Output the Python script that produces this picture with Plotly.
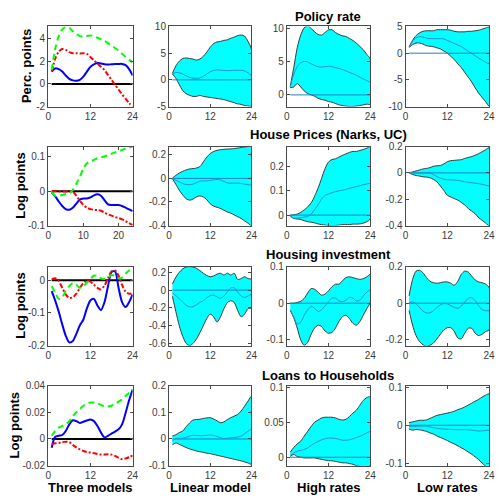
import plotly.graph_objects as go

# Impulse responses over 24 horizons: three models (left column) and
# bootstrap bands (linear model, high rates, low rates).
horizon = [1, 2, 3, 4, 5, 6, 7, 8, 9, 10, 11, 12, 13, 14, 15, 16, 17, 18, 19, 20, 21, 22, 23, 24]
zero_x = [1, 24]
zero_y = [0, 0]

row_titles = ["Policy rate", "House Prices (Narks, UC)", "Housing investment", "Loans to Households"]
col_titles = ["Three models", "Linear model", "High rates", "Low rates"]
y_titles = ["Perc. points", "Log points", "Log points", "Log points"]

# ---- Policy rate ----
policy_linear = [1.1, 1.38, 1.32, 1.1, 0.75, 0.46, 0.32, 0.29, 0.37, 0.66, 1.1, 1.52,
                 1.75, 1.87, 1.81, 1.75, 1.72, 1.75, 1.78, 1.78, 1.78, 1.67, 1.32, 0.75]
policy_low = [1.1, 2.24, 2.87, 3.1, 3.02, 2.82, 2.73, 2.73, 2.7, 2.73, 2.67, 2.39,
              2.1, 1.81, 1.52, 1.24, 0.8, 0.37, -0.06, -0.49, -0.92, -1.29, -1.7, -2.0]
policy_high = [1.24, 3.1, 4.25, 4.83, 5.05, 4.97, 4.68, 4.45, 4.25, 4.2, 4.25, 4.31,
               4.25, 4.1, 3.97, 3.82, 3.62, 3.39, 3.19, 2.96, 2.67, 2.39, 2.16, 1.9]
policy_linear_up = [1.2, 2.6, 3.5, 4.0, 4.1, 4.0, 3.9, 3.7, 3.9, 4.4, 5.2, 6.1,
                    6.8, 7.1, 7.2, 7.4, 7.5, 7.8, 8.0, 8.3, 8.4, 8.2, 7.2, 5.7]
policy_linear_lo = [1.1, 0.3, -0.9, -2.0, -2.6, -2.9, -3.1, -3.1, -2.9, -3.1, -3.2, -3.3,
                    -3.4, -3.5, -3.6, -3.7, -3.9, -4.1, -4.3, -4.5, -4.6, -4.8, -4.9, -4.9]
policy_high_up = [1.3, 4.1, 7.1, 9.0, 10.1, 10.4, 10.0, 9.5, 9.1, 9.0, 9.4, 9.8,
                  9.8, 9.4, 9.1, 8.9, 8.8, 8.5, 8.2, 7.8, 7.3, 6.8, 6.1, 5.4]
policy_high_lo = [1.1, 1.2, 1.7, 1.2, 0.6, 0.2, 0.0, -0.2, -0.5, -0.7, -0.8, -1.0,
                  -1.1, -1.3, -1.5, -1.6, -1.7, -1.75, -1.75, -1.7, -1.6, -1.5, -1.4, -1.4]
policy_low_up = [1.2, 2.4, 3.3, 3.8, 4.1, 4.2, 4.2, 4.2, 4.4, 4.4, 4.4, 4.4,
                 4.3, 4.1, 4.0, 4.0, 4.0, 4.1, 4.1, 4.2, 4.3, 4.5, 4.7, 4.9]
policy_low_lo = [1.1, 1.6, 1.9, 1.9, 1.7, 1.4, 1.3, 1.2, 1.0, 0.8, 0.4, 0.0,
                 -0.6, -1.2, -2.0, -2.7, -3.6, -4.5, -5.4, -6.5, -7.5, -8.3, -9.1, -9.9]

# ---- House prices ----
house_linear = [-0.003, -0.015, -0.03, -0.043, -0.052, -0.054, -0.048, -0.036, -0.024, -0.021, -0.021, -0.018,
                -0.012, -0.009, -0.013, -0.026, -0.038, -0.04, -0.04, -0.04, -0.043, -0.048, -0.053, -0.058]
house_low = [0.0, 0.0, -0.001, -0.001, -0.001, -0.001, -0.001, -0.013, -0.028, -0.04, -0.048, -0.052,
             -0.054, -0.055, -0.057, -0.062, -0.067, -0.071, -0.075, -0.078, -0.082, -0.087, -0.093, -0.099]
house_high = [-0.003, -0.013, -0.012, -0.011, -0.008, -0.006, 0.004, 0.022, 0.042, 0.066, 0.081, 0.086,
              0.091, 0.096, 0.099, 0.101, 0.105, 0.109, 0.113, 0.116, 0.12, 0.124, 0.127, 0.13]
house_linear_up = [0.003, 0.025, 0.045, 0.06, 0.072, 0.08, 0.083, 0.088, 0.1, 0.14, 0.18, 0.21,
                   0.228, 0.238, 0.243, 0.246, 0.249, 0.25, 0.253, 0.257, 0.262, 0.266, 0.27, 0.275]
house_linear_lo = [0.0, -0.05, -0.1, -0.14, -0.172, -0.185, -0.175, -0.158, -0.148, -0.158, -0.18, -0.215,
                   -0.235, -0.245, -0.255, -0.27, -0.285, -0.295, -0.31, -0.325, -0.34, -0.36, -0.38, -0.4]
house_high_up = [0.0, 0.001, 0.004, 0.011, 0.021, 0.033, 0.05, 0.077, 0.11, 0.15, 0.19, 0.217,
                 0.227, 0.23, 0.237, 0.244, 0.25, 0.256, 0.26, 0.26, 0.264, 0.268, 0.273, 0.28]
house_high_lo = [-0.004, -0.014, -0.016, -0.018, -0.023, -0.027, -0.029, -0.032, -0.036, -0.039, -0.041, -0.043,
                 -0.044, -0.043, -0.041, -0.039, -0.039, -0.039, -0.037, -0.037, -0.036, -0.033, -0.027, -0.016]
house_low_up = [0.0, 0.007, 0.015, 0.022, 0.03, 0.034, 0.04, 0.05, 0.054, 0.056, 0.068, 0.085,
                0.093, 0.095, 0.098, 0.1, 0.11, 0.117, 0.124, 0.134, 0.146, 0.16, 0.176, 0.19]
house_low_lo = [0.0, -0.012, -0.02, -0.024, -0.03, -0.032, -0.037, -0.05, -0.068, -0.1, -0.134, -0.17,
                -0.183, -0.195, -0.207, -0.224, -0.244, -0.27, -0.29, -0.31, -0.34, -0.36, -0.38, -0.4]

# ---- Housing investment ----
invest_linear = [-0.033, -0.062, -0.096, -0.135, -0.17, -0.19, -0.186, -0.164, -0.138, -0.12, -0.086, -0.062,
                 -0.057, -0.077, -0.091, -0.067, -0.018, 0.025, 0.027, -0.023, -0.067, -0.082, -0.067, -0.043]
invest_low = [0.003, 0.006, -0.002, -0.023, -0.043, -0.054, -0.052, -0.041, -0.023, -0.009, -0.002, -0.004,
              -0.014, -0.023, -0.028, -0.016, 0.006, 0.027, 0.03, 0.014, -0.014, -0.035, -0.041, -0.041]
invest_high = [-0.018, -0.038, -0.057, -0.052, -0.033, -0.018, -0.009, -0.014, -0.023, -0.018, -0.007, 0.004,
               0.014, 0.014, 0.006, 0.004, 0.008, 0.016, 0.014, 0.006, 0.008, 0.02, 0.03, 0.037]
invest_linear_up = [0.07, 0.145, 0.2, 0.24, 0.26, 0.265, 0.26, 0.245, 0.22, 0.19, 0.165, 0.15,
                    0.16, 0.18, 0.19, 0.17, 0.19, 0.17, 0.19, 0.12, 0.13, 0.15, 0.13, 0.12]
invest_linear_lo = [-0.07, -0.24, -0.4, -0.52, -0.6, -0.625, -0.6, -0.55, -0.48, -0.4, -0.32, -0.27,
                    -0.3, -0.36, -0.3, -0.21, -0.14, -0.12, -0.14, -0.23, -0.3, -0.27, -0.21, -0.2]
invest_high_up = [0.0, 0.0, 0.002, 0.005, 0.013, 0.028, 0.04, 0.038, 0.03, 0.022, 0.025, 0.034,
                  0.045, 0.052, 0.052, 0.061, 0.07, 0.072, 0.07, 0.067, 0.065, 0.067, 0.072, 0.078]
invest_high_lo = [-0.02, -0.04, -0.068, -0.1, -0.115, -0.107, -0.085, -0.068, -0.06, -0.064, -0.076, -0.082,
                  -0.08, -0.068, -0.05, -0.037, -0.033, -0.042, -0.055, -0.06, -0.05, -0.033, -0.015, 0.003]
invest_low_up = [0.04, 0.13, 0.175, 0.18, 0.166, 0.14, 0.12, 0.112, 0.109, 0.112, 0.116, 0.116,
                 0.109, 0.098, 0.12, 0.157, 0.175, 0.17, 0.148, 0.127, 0.116, 0.112, 0.104, 0.086]
invest_low_lo = [-0.04, -0.12, -0.177, -0.21, -0.227, -0.236, -0.23, -0.218, -0.195, -0.17, -0.146, -0.134,
                 -0.134, -0.155, -0.19, -0.195, -0.164, -0.137, -0.137, -0.164, -0.177, -0.17, -0.155, -0.146]

# ---- Loans to households ----
loans_linear = [-0.0066, 0.0017, 0.0024, 0.003, 0.006, 0.011, 0.014, 0.0134, 0.012, 0.0129, 0.0139, 0.0146,
                0.0134, 0.0098, 0.0049, 0.0012, 0.0024, 0.0041, 0.0056, 0.0073, 0.011, 0.0195, 0.029, 0.037]
loans_low = [-0.0037, -0.0032, -0.003, -0.0024, -0.002, -0.0024, -0.0044, -0.0063, -0.0078, -0.009, -0.0098, -0.0102,
             -0.0107, -0.0112, -0.0117, -0.0117, -0.0115, -0.0117, -0.0127, -0.0141, -0.0151, -0.0146, -0.0137, -0.0122]
loans_high = [0.0024, 0.006, 0.0085, 0.0098, 0.011, 0.0134, 0.017, 0.02, 0.0224, 0.0249, 0.0263, 0.0273,
              0.0273, 0.0268, 0.0256, 0.0244, 0.0244, 0.0249, 0.0263, 0.028, 0.0297, 0.0322, 0.0346, 0.037]
loans_linear_up = [0.011, 0.016, 0.024, 0.03, 0.046, 0.06, 0.071, 0.073, 0.074, 0.077, 0.079, 0.08,
                   0.075, 0.068, 0.061, 0.064, 0.073, 0.08, 0.086, 0.092, 0.105, 0.123, 0.142, 0.16]
loans_linear_lo = [-0.022, -0.015, -0.02, -0.026, -0.032, -0.037, -0.041, -0.045, -0.048, -0.05, -0.053, -0.055,
                   -0.058, -0.061, -0.064, -0.067, -0.07, -0.073, -0.076, -0.079, -0.082, -0.086, -0.09, -0.094]
loans_high_up = [0.007, 0.014, 0.019, 0.023, 0.03, 0.037, 0.044, 0.05, 0.053, 0.056, 0.057, 0.057,
                 0.057, 0.056, 0.054, 0.053, 0.054, 0.058, 0.063, 0.067, 0.074, 0.081, 0.085, 0.086]
loans_high_lo = [0.001, 0.004, 0.001, 0.0, -0.001, -0.001, -0.001, -0.001, -0.002, -0.003, -0.004, -0.005,
                 -0.005, -0.006, -0.007, -0.008, -0.008, -0.009, -0.01, -0.012, -0.013, -0.013, -0.013, -0.012]
loans_low_up = [0.007, 0.009, 0.011, 0.013, 0.013, 0.014, 0.018, 0.022, 0.026, 0.028, 0.03, 0.032,
                0.034, 0.037, 0.041, 0.044, 0.048, 0.053, 0.058, 0.063, 0.068, 0.074, 0.079, 0.082]
loans_low_lo = [-0.01, -0.013, -0.011, -0.012, -0.014, -0.016, -0.02, -0.023, -0.028, -0.032, -0.036, -0.04,
                -0.045, -0.049, -0.054, -0.059, -0.064, -0.07, -0.076, -0.083, -0.09, -0.099, -0.107, -0.11]

# Axis ranges and tick labels, row by row, column by column
y_ranges = [
    [[-2, 5.1], [-5, 10], [-1.75, 10.3], [-10, 5]],
    [[-0.1, 0.13], [-0.4, 0.27], [-0.043, 0.28], [-0.4, 0.2]],
    [[-0.2, 0.042], [-0.625, 0.265], [-0.116, 0.1], [-0.232, 0.2]],
    [[-0.02, 0.04], [-0.1, 0.2], [-0.012, 0.102], [-0.106, 0.104]],
]
y_ticks = [
    [[-2, 0, 2, 4], [-5, 0, 5, 10], [0, 5, 10], [-10, -5, 0, 5]],
    [[-0.1, 0, 0.1], [-0.4, -0.2, 0, 0.2], [0, 0.1, 0.2], [-0.4, -0.2, 0, 0.2]],
    [[-0.2, -0.1, 0], [-0.6, -0.4, -0.2, 0, 0.2], [-0.1, 0, 0.1], [-0.2, 0, 0.2]],
    [[-0.02, 0, 0.02, 0.04], [-0.1, 0, 0.1, 0.2], [0, 0.05, 0.1], [-0.1, 0, 0.1]],
]
x_ticks_default = [0, 12, 24]
x_ticks_house = [0, 10, 20]

rows = [
    (policy_linear, policy_high, policy_low,
     [(policy_linear_up, policy_linear_lo), (policy_high_up, policy_high_lo), (policy_low_up, policy_low_lo)]),
    (house_linear, house_high, house_low,
     [(house_linear_up, house_linear_lo), (house_high_up, house_high_lo), (house_low_up, house_low_lo)]),
    (invest_linear, invest_high, invest_low,
     [(invest_linear_up, invest_linear_lo), (invest_high_up, invest_high_lo), (invest_low_up, invest_low_lo)]),
    (loans_linear, loans_high, loans_low,
     [(loans_linear_up, loans_linear_lo), (loans_high_up, loans_high_lo), (loans_low_up, loans_low_lo)]),
]

W, H = 500, 499
col_px = [(46, 132), (169, 253), (289, 374), (410, 495)]
row_px = [(21, 103), (144, 225), (267, 348), (389, 471)]

FONT = "Liberation Sans, Arial, Helvetica, sans-serif"
AX_COLOR = "#4a4a4a"
TICK_FONT = dict(family=FONT, size=10, color="#3c3c3c")


def fmt(v):
    return "%g" % v


fig = go.Figure()
layout = dict(
    width=W, height=H, margin=dict(l=0, r=0, t=0, b=0),
    paper_bgcolor="white", plot_bgcolor="white", showlegend=False,
    font=dict(family=FONT),
)
annotations = []

for r in range(4):
    linear, high, low, bands = rows[r]
    medians = [linear, high, low]
    for c in range(4):
        idx = r * 4 + c + 1
        xa = "x" if idx == 1 else "x%d" % idx
        ya = "y" if idx == 1 else "y%d" % idx
        xkey = "xaxis" if idx == 1 else "xaxis%d" % idx
        ykey = "yaxis" if idx == 1 else "yaxis%d" % idx

        if c == 0:
            fig.add_trace(go.Scatter(x=zero_x, y=zero_y, mode="lines", xaxis=xa, yaxis=ya,
                                     line=dict(color="black", width=2)))
            fig.add_trace(go.Scatter(x=horizon, y=linear, mode="lines", xaxis=xa, yaxis=ya,
                                     line=dict(color="#0000ff", width=2, shape="spline", smoothing=0.8)))
            fig.add_trace(go.Scatter(x=horizon, y=low, mode="lines", xaxis=xa, yaxis=ya,
                                     line=dict(color="#ff0000", width=2, shape="spline", smoothing=0.8,
                                               dash="5px,2px,2px,2px")))
            fig.add_trace(go.Scatter(x=horizon, y=high, mode="lines", xaxis=xa, yaxis=ya,
                                     line=dict(color="#00ff00", width=2, shape="spline", smoothing=0.8,
                                               dash="6px,4px")))
        else:
            up, lo = bands[c - 1]
            fig.add_trace(go.Scatter(x=horizon + horizon[::-1], y=up + lo[::-1], mode="lines",
                                     fill="toself", fillcolor="#00ffff", xaxis=xa, yaxis=ya,
                                     line=dict(color="#3a3a3a", width=1, shape="spline", smoothing=0.8)))
            fig.add_trace(go.Scatter(x=zero_x, y=zero_y, mode="lines", xaxis=xa, yaxis=ya,
                                     line=dict(color="#1f7fc8", width=1)))
            fig.add_trace(go.Scatter(x=horizon, y=medians[c - 1], mode="lines", xaxis=xa, yaxis=ya,
                                     line=dict(color="#2a8fd0", width=1, shape="spline", smoothing=0.8)))

        x0, x1 = col_px[c]
        y0, y1 = row_px[r]
        xt = x_ticks_house if (r == 1 and c == 0) else x_ticks_default
        common = dict(showline=True, linecolor=AX_COLOR, linewidth=1, mirror="ticks",
                      ticks="inside", ticklen=3, tickcolor=AX_COLOR, showgrid=False,
                      zeroline=False, tickfont=TICK_FONT, fixedrange=True)
        layout[xkey] = dict(domain=[x0 / W, x1 / W], anchor=ya, range=[0, 24],
                            tickvals=xt, ticktext=[fmt(v) for v in xt], **common)
        yt = y_ticks[r][c]
        layout[ykey] = dict(domain=[1 - y1 / H, 1 - y0 / H], anchor=xa, range=y_ranges[r][c],
                            tickvals=yt, ticktext=[fmt(v) for v in yt], **common)

# Row titles above the third column
title_y = [11, 132, 255, 379]
for r in range(4):
    annotations.append(dict(text="<b>%s</b>" % row_titles[r], x=331 / W, y=1 - title_y[r] / H,
                            xref="paper", yref="paper", showarrow=False,
                            xanchor="center", yanchor="middle",
                            font=dict(family=FONT, size=13, color="black")))

# Vertical unit labels on the left column
ylab_x = [24, 17, 17, 12]
for r in range(4):
    yc = (row_px[r][0] + row_px[r][1]) / 2
    annotations.append(dict(text="<b>%s</b>" % y_titles[r], x=ylab_x[r] / W, y=1 - yc / H,
                            xref="paper", yref="paper", showarrow=False, textangle=-90,
                            xanchor="center", yanchor="middle",
                            font=dict(family=FONT, size=13, color="black")))

# Column labels under the bottom row
for c in range(4):
    xc = (col_px[c][0] + col_px[c][1]) / 2
    annotations.append(dict(text="<b>%s</b>" % col_titles[c], x=xc / W, y=1 - 493 / H,
                            xref="paper", yref="paper", showarrow=False,
                            xanchor="center", yanchor="middle",
                            font=dict(family=FONT, size=13, color="black")))

layout["annotations"] = annotations
fig.update_layout(**layout)
fig.write_html("out.html")
